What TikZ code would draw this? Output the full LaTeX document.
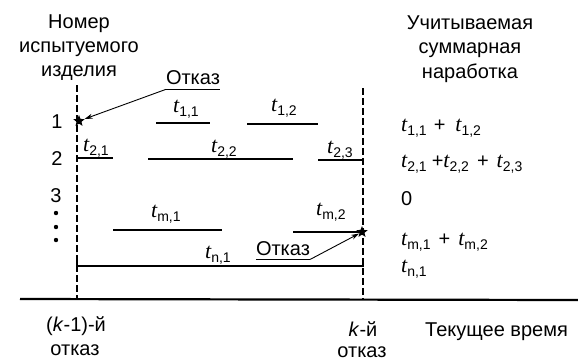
\documentclass[tikz,border=0pt]{standalone}
\usepackage{fontspec}
\setmainfont{Liberation Sans}
\newfontfamily\tfont{Liberation Serif}
\usetikzlibrary{shapes.geometric,arrows.meta}
\newcommand\tv[1]{{\fontsize{22}{22}\selectfont\tfont\itshape t}\raisebox{-4pt}{\fontsize{14}{14}\selectfont#1}}
\begin{document}
\begin{tikzpicture}[x=1pt,y=-1pt,
  txt/.style={inner sep=0pt, font=\fontsize{20}{24}\selectfont},
  seg/.style={line width=1.8pt},
  dline/.style={line width=2pt, dash pattern=on 7pt off 3pt},
  ptr/.style={line width=0.9pt, -{Stealth[length=8pt,width=5pt]}},
  mark star/.style={star, star points=5, star point ratio=2.3, fill=black, inner sep=0pt, minimum size=12pt}]
\useasboundingbox (0,0) rectangle (578,360);
% headers
\node[txt, anchor=base] (hl1) at (79,28) {Номер};
\node[txt, anchor=base] (hl2) at (79,52) {испытуемого};
\node[txt, anchor=base] (hl3) at (79,76) {изделия};
\node[txt, anchor=base] (hr1) at (470,29) {Учитываемая};
\node[txt, anchor=base] (hr2) at (470,53) {суммарная};
\node[txt, anchor=base] (hr3) at (470,78) {наработка};
% vertical dashed lines and axis
\coordinate (lt) at (77,85);
\coordinate (lb) at (77,299);
\coordinate (rt) at (363,88);
\coordinate (rb) at (363,299);
\draw[dline] (lt) -- (lb);
\draw[dline] (rt) -- (rb);
\coordinate (ax0) at (20,299);
\coordinate (ax1) at (578,300);
\draw[line width=2.2pt] (ax0) -- (ax1);
% row numbers
\node[txt, anchor=base] (r1) at (57,128) {1};
\node[txt, anchor=base] (r2) at (57,165) {2};
\node[txt, anchor=base] (r3) at (56,202) {3};
\foreach \yy in {213,227,240}
  \fill (56,\yy) circle (2.2pt);
% row 1
\node[mark star] (s1) at (79,121) {};
\draw[seg] (156,123) -- (210,123);
\draw[seg] (247,124) -- (318,124);
\node[txt, anchor=base west] (t11) at (173,112) {\tv{1,1}};
\node[txt, anchor=base west] (t12) at (271,111) {\tv{1,2}};
% row 2
\draw[seg] (77,158) -- (113,158);
\draw[seg] (148,159) -- (293,159);
\draw[seg] (318,160) -- (363,160);
\node[txt, anchor=base west] (t21) at (83,151) {\tv{2,1}};
\node[txt, anchor=base west] (t22) at (211,152) {\tv{2,2}};
\node[txt, anchor=base west] (t23) at (327,153) {\tv{2,3}};
% row m
\draw[seg] (113,230) -- (222,230);
\draw[seg] (293,232) -- (363,232);
\node[mark star] (s2) at (362,232) {};
\node[txt, anchor=base west] (tm1) at (151,217) {\tv{m,1}};
\node[txt, anchor=base west] (tm2) at (316,215) {\tv{m,2}};
% row n
\draw[seg] (77,260) -- (77,266) -- (363,266) -- (363,260);
\node[txt, anchor=base west] (tn1) at (205,258) {\tv{n,1}};
% failure labels
\node[txt, anchor=base] (o1) at (193,84) {Отказ};
\draw[line width=1pt] ([yshift=-5pt]o1.south west) -- ([yshift=-5pt]o1.south east);
\draw[ptr] ([yshift=-5pt]o1.south west) -- (s1);
\node[txt, anchor=base] (o2) at (283,255) {Отказ};
\draw[line width=1pt] ([yshift=-4pt]o2.south west) -- ([yshift=-4pt]o2.south east);
\draw[ptr] ([yshift=-4pt]o2.south east) -- (s2);
% sums
\node[txt, anchor=base west] (sum1) at (401,131) {\tv{1,1}\hspace{7pt}+\hspace{10pt}\tv{1,2}};
\node[txt, anchor=base west] (sum2) at (401,167) {\tv{2,1}\hspace{5pt}+\tv{2,2}\hspace{8pt}+\hspace{8pt}\tv{2,3}};
\node[txt, anchor=base west] (sum3) at (401,205) {0};
\node[txt, anchor=base west] (sum4) at (401,245) {\tv{m,1}\hspace{8pt}+\hspace{8pt}\tv{m,2}};
\node[txt, anchor=base west] (sum5) at (401,272) {\tv{n,1}};
% bottom labels
\node[txt, anchor=base] (b1) at (76,331) {(\textit{k}-1)-й};
\node[txt, anchor=base] (b2) at (75,355) {отказ};
\node[txt, anchor=base] (b3) at (363,336) {\textit{k}-й};
\node[txt, anchor=base] (b4) at (362,357) {отказ};
\node[txt, anchor=base west] (b5) at (425,336) {Текущее время};
\end{tikzpicture}
\end{document}
